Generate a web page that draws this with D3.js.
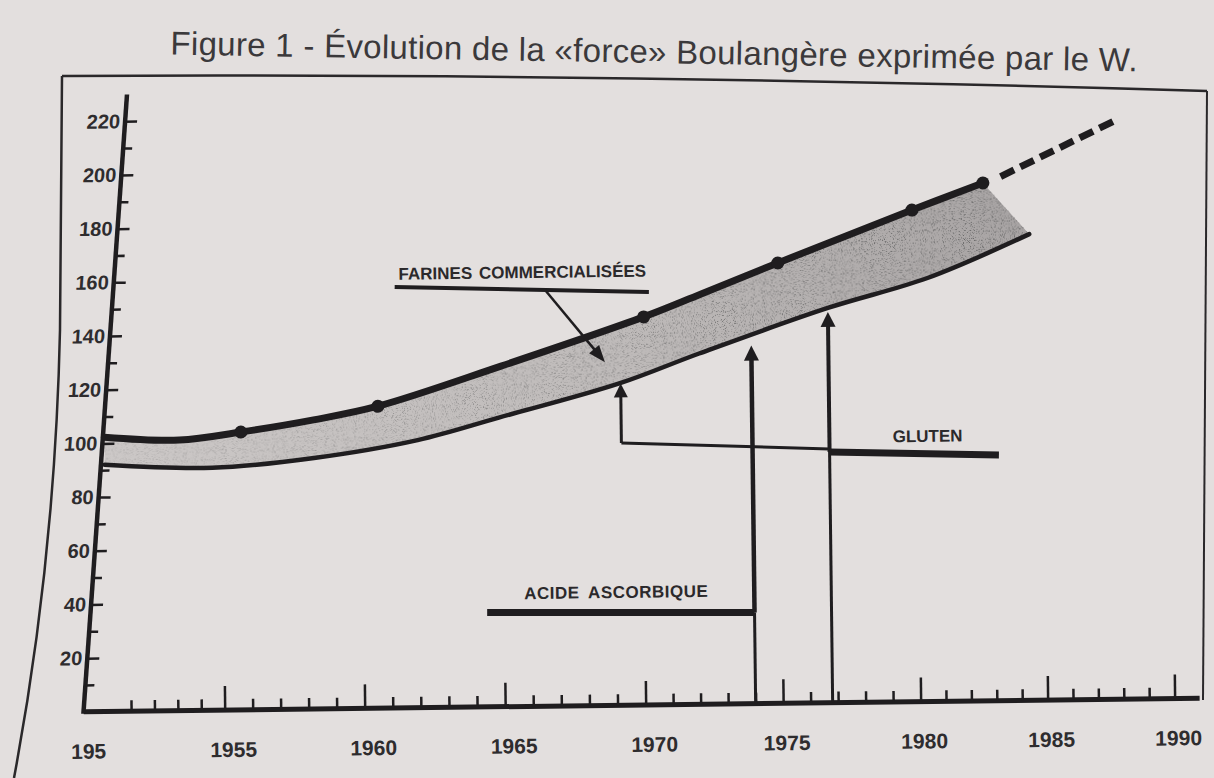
<!DOCTYPE html>
<html>
<head>
<meta charset="utf-8">
<style>
body { margin: 0; background: #e3dfde; }
svg { display: block; }
text { font-family: "Liberation Sans", Arial, Helvetica, sans-serif; }
</style>
<script src="https://d3js.org/d3.v7.min.js"></script>
</head>
<body>
<svg width="1214" height="778"></svg>
<script>

// values (year, W)
var upperYears  = [1950, 1953.2, 1955.7, 1958.3, 1960.6, 1965.0, 1970.1, 1972.2, 1975.0, 1979.9, 1982.7];
var upperValues = [102.3, 100.9, 103.6, 107.8, 112.6, 127.0, 144.7, 153.0, 164.2, 183.3, 193.1];
var dotYears    = [1955.7, 1960.6, 1970.1, 1975.0, 1979.9, 1982.7];
var lowerYears  = [1950, 1954.6, 1958.3, 1962.0, 1964.9, 1969.2, 1972.1, 1976.8, 1980.5, 1984.5];
var lowerValues = [92.0, 90.4, 93.6, 99.8, 107.8, 120.0, 130.8, 147.2, 158.0, 173.8];
var forecastYears  = [1983.4, 1987.9];
var forecastValues = [195.4, 215.6];

// axes
var xTickYears  = [1950, 1955, 1960, 1965, 1970, 1975, 1980, 1985, 1990];
var xTickLabels = ["195", "1955", "1960", "1965", "1970", "1975", "1980", "1985", "1990"];
var yTickValues = [20, 40, 60, 80, 100, 120, 140, 160, 180, 200, 220];
var yMinorTicks = [10, 30, 50, 70, 90, 110, 130, 150, 170, 190, 210];

// annotations (year, W)
var labelTexts  = ["FARINES COMMERCIALISÉES", "GLUTEN", "ACIDE ASCORBIQUE"];
var labelYears  = [1965.8, 1980.4, 1969.0];
var labelValues = [159.7, 96.8, 40.0];
var farinesRule  = [[1961.25, 157], [1970.3, 154]];
var farinesArrow = [[1966.6, 155.2], [1968.7, 128]];
var acideRule    = [[1964.4, 35.2], [1974, 34]];
var acideArrow   = [1974, 34, 133.5];          // year, from, tip
var glutenRule   = [[1976.8, 93.5], [1983.2, 91.6]];
var glutenArrow  = [1976.8, 93.5, 145.7];
var glutenLink   = [[1976.8, 94.6], [1969.25, 97.8]];
var glutenArrow2 = [1969.25, 97.8, 120];

var title = "Figure 1 - Évolution de la «force» Boulangère exprimée par le W.";

var ink = "#1f1d1f";
var svg = d3.select("svg");

svg.append("rect").attr("width", 1214).attr("height", 778).attr("fill", "#e3dfde");

var defs = svg.append("defs");
var grad = defs.append("linearGradient").attr("id", "bandFill")
    .attr("gradientUnits", "userSpaceOnUse").attr("x1", 100).attr("x2", 1040).attr("y1", 0).attr("y2", 0);
grad.append("stop").attr("offset", 0).attr("stop-color", "#ccc8c7");
grad.append("stop").attr("offset", 0.55).attr("stop-color", "#bfbbba");
grad.append("stop").attr("offset", 1).attr("stop-color", "#a7a3a3");

var grainMask = defs.append("linearGradient").attr("id", "grainAmt")
    .attr("gradientUnits", "userSpaceOnUse").attr("x1", 100).attr("x2", 1040).attr("y1", 0).attr("y2", 0);
grainMask.append("stop").attr("offset", 0).attr("stop-color", "#000").attr("stop-opacity", 0.25);
grainMask.append("stop").attr("offset", 1).attr("stop-color", "#000").attr("stop-opacity", 1);

var grain = defs.append("filter").attr("id", "grain")
    .attr("x", "0%").attr("y", "0%").attr("width", "100%").attr("height", "100%");
grain.append("feTurbulence").attr("type", "fractalNoise").attr("baseFrequency", 0.9)
    .attr("numOctaves", 2).attr("seed", 7).attr("result", "noise");
grain.append("feColorMatrix").attr("in", "noise").attr("type", "matrix")
    .attr("values", "0 0 0 0 0.12  0 0 0 0 0.12  0 0 0 0 0.12  4.5 0 0 0 -2.45").attr("result", "specks");
grain.append("feComposite").attr("in", "specks").attr("in2", "SourceAlpha").attr("operator", "in");

// page frame and title (the photo is slightly tilted)
var frame = svg.append("g").attr("fill", "none").attr("stroke", "#2a282a").attr("stroke-width", 2.5);
frame.append("path").attr("d", "M62,76 Q600,73 1207,91");
frame.append("path").attr("d", "M62,76 L60,330 Q55,560 14,778");
frame.append("path").attr("d", "M1207,91 L1203,700").attr("stroke-width", 2);

svg.append("text")
    .attr("x", 654).attr("y", 63)
    .attr("transform", "rotate(1.0,654,63)")
    .attr("text-anchor", "middle")
    .attr("font-size", 33).attr("letter-spacing", 0.3)
    .attr("fill", "#3b393b")
    .text(title);

var g = svg.append("g").attr("transform", "rotate(-0.7,640,405)");

var x = d3.scaleLinear()
    .domain([1950, 1955, 1960, 1970, 1980, 1990])
    .range([104, 221, 361, 642, 917, 1171]);
var y = d3.scaleLinear().domain([0, 220]).range([705, 115]);

var smooth = d3.line()
    .x(function(d) { return x(d[0]); })
    .y(function(d) { return y(d[1]); })
    .curve(d3.curveCatmullRom.alpha(0.5));
var straight = d3.line()
    .x(function(d) { return x(d[0]); })
    .y(function(d) { return y(d[1]); });

var upper = d3.zip(upperYears, upperValues);
var lower = d3.zip(lowerYears, lowerValues);
var bandPath = smooth(upper) + "L" + smooth(lower.slice().reverse()).slice(1) + "Z";

// band
g.append("path").attr("d", bandPath).attr("fill", "url(#bandFill)");
g.append("path").attr("d", bandPath).attr("fill", "url(#grainAmt)").attr("filter", "url(#grain)");

g.append("path").attr("d", smooth(lower)).attr("fill", "none")
    .attr("stroke", ink).attr("stroke-width", 4.5).attr("stroke-linecap", "round");
g.append("path").attr("d", smooth(upper)).attr("fill", "none")
    .attr("stroke", ink).attr("stroke-width", 7).attr("stroke-linecap", "round");

g.selectAll("circle.dot")
    .data(upper.filter(function(d) { return dotYears.indexOf(d[0]) >= 0; }))
    .enter().append("circle").attr("class", "dot")
    .attr("cx", function(d) { return x(d[0]); })
    .attr("cy", function(d) { return y(d[1]); })
    .attr("r", 6.5).attr("fill", ink);

g.append("path").attr("d", straight(d3.zip(forecastYears, forecastValues)))
    .attr("fill", "none").attr("stroke", ink).attr("stroke-width", 7)
    .attr("stroke-dasharray", "15,7");

// x axis
var xAxisLeft = x(1950) - 24, xAxisRight = 1196;
g.append("line").attr("x1", xAxisLeft).attr("x2", xAxisRight)
    .attr("y1", y(0)).attr("y2", y(0)).attr("stroke", ink).attr("stroke-width", 5);

var minorYears = d3.range(1951, 1990).filter(function(d) { return d % 5 !== 0; });
g.append("g").attr("transform", "translate(0," + y(0) + ")")
    .call(d3.axisBottom(x).tickValues(minorYears).tickSize(-11).tickFormat(""))
    .call(function(a) { a.select(".domain").remove(); })
    .selectAll("line").attr("stroke", ink).attr("stroke-width", 2.5);

var xAxis = g.append("g").attr("transform", "translate(0," + y(0) + ")")
    .call(d3.axisBottom(x).tickValues(xTickYears).tickSize(-24).tickPadding(32)
        .tickFormat(function(d, i) { return xTickLabels[i]; }));
xAxis.select(".domain").remove();
xAxis.selectAll("line").attr("stroke", ink).attr("stroke-width", 2.5);
xAxis.selectAll(".tick").filter(function(d) { return d === 1950; }).select("line").remove();
xAxis.selectAll("text")
    .attr("font-family", "'Liberation Sans', Arial, sans-serif")
    .attr("font-size", 21).attr("font-weight", "bold").attr("fill", "#2e2c2e")
    .attr("dx", function(d) { return d === 1950 ? -20 : (d < 1975 ? 8 : 3); });

// y axis, leaning like the photographed one
var lean = 0.0827;
var ax0 = x(1950) - 2 + lean * y(100);
var yg = g.append("g")
    .attr("transform", "translate(" + ax0 + ",0) skewX(" + (-Math.atan(lean) * 180 / Math.PI) + ")");
yg.append("line").attr("x1", 0).attr("x2", 0).attr("y1", y(0) + 2).attr("y2", y(230))
    .attr("stroke", ink).attr("stroke-width", 4.5);
yg.append("g")
    .call(d3.axisLeft(y).tickValues(yMinorTicks).tickSize(-9).tickFormat(""))
    .call(function(a) { a.select(".domain").remove(); })
    .selectAll("line").attr("stroke", ink).attr("stroke-width", 2.5);
var yAxis = yg.append("g")
    .call(d3.axisLeft(y).tickValues(yTickValues).tickSize(-12).tickPadding(5).tickFormat(d3.format("d")));
yAxis.select(".domain").remove();
yAxis.selectAll("line").attr("stroke", ink).attr("stroke-width", 2.5);
yAxis.selectAll("text")
    .attr("font-family", "'Liberation Sans', Arial, sans-serif")
    .attr("font-size", 20).attr("font-weight", "bold").attr("fill", "#2e2c2e");

// annotations
function arrow(x1, y1, x2, y2, w, hl, hw) {
  var dx = x2 - x1, dy = y2 - y1, L = Math.hypot(dx, dy), ux = dx / L, uy = dy / L;
  var bx = x2 - ux * hl, by = y2 - uy * hl;
  g.append("line").attr("x1", x1).attr("y1", y1).attr("x2", bx + ux).attr("y2", by + uy)
      .attr("stroke", ink).attr("stroke-width", w);
  g.append("path")
      .attr("d", "M" + x2 + "," + y2 +
                 "L" + (bx - uy * hw / 2) + "," + (by + ux * hw / 2) +
                 "L" + (bx + uy * hw / 2) + "," + (by - ux * hw / 2) + "Z")
      .attr("fill", ink);
}
function rule(pts, w) {
  g.append("path").attr("d", straight(pts)).attr("fill", "none")
      .attr("stroke", ink).attr("stroke-width", w);
}

g.selectAll("text.note")
    .data(labelTexts)
    .enter().append("text").attr("class", "note")
    .attr("x", function(d, i) { return x(labelYears[i]); })
    .attr("y", function(d, i) { return y(labelValues[i]); })
    .attr("text-anchor", "middle")
    .attr("font-size", 17).attr("font-weight", "bold")
    .attr("letter-spacing", function(d, i) { return i === 2 ? 0.5 : 0; })
    .attr("word-spacing", function(d, i) { return i === 2 ? 4 : 2; })
    .attr("fill", "#2b292b")
    .text(function(d) { return d; });

rule(farinesRule, 4);
arrow(x(farinesArrow[0][0]), y(farinesArrow[0][1]), x(farinesArrow[1][0]), y(farinesArrow[1][1]), 2.5, 17, 13);

rule(acideRule, 7);
rule([[acideArrow[0], 0], [acideArrow[0], acideArrow[1]]], 3);
arrow(x(acideArrow[0]), y(acideArrow[1]), x(acideArrow[0]), y(acideArrow[2]), 4.5, 15, 15);

rule(glutenRule, 7);
rule([[glutenArrow[0], 0], [glutenArrow[0], glutenArrow[1]]], 3);
arrow(x(glutenArrow[0]), y(glutenArrow[1]), x(glutenArrow[0]), y(glutenArrow[2]), 4, 15, 15);
rule(glutenLink, 3);
arrow(x(glutenArrow2[0]), y(glutenArrow2[1]), x(glutenArrow2[0]), y(glutenArrow2[2]), 3, 14, 14);

</script>
</body>
</html>
